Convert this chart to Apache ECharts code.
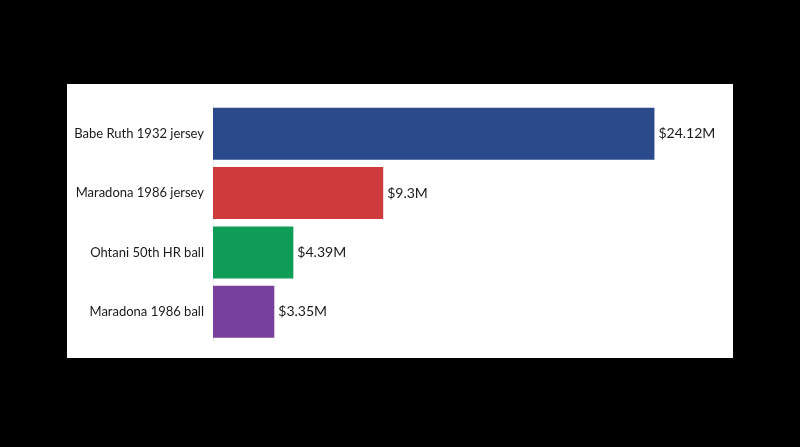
<!DOCTYPE html>
<html><head><meta charset="utf-8">
<script src="https://cdn.jsdelivr.net/npm/echarts@6/dist/echarts.min.js"></script>
<style>html,body{margin:0;padding:0;background:#000;}#c{width:800px;height:447px;}</style>
</head><body><div id="c"></div>
<script>
const categories = ["Babe Ruth 1932 jersey", "Maradona 1986 jersey", "Ohtani 50th HR ball", "Maradona 1986 ball"];
const values = [24.12, 9.3, 4.39, 3.35];
const valueLabels = ["$24.12M", "$9.3M", "$4.39M", "$3.35M"];
const colors = ["#2b4a8c", "#cf3a3c", "#0f9c57", "#77409c"];

const chart = echarts.init(document.getElementById('c'), null, {renderer: 'canvas'});
chart.setOption({
  backgroundColor: '#000',
  animation: false,
  graphic: [{type: 'rect', z: -10, shape: {x: 67, y: 84, width: 666, height: 274}, style: {fill: '#fff'}}],
  grid: {left: 213, top: 104, width: 485, height: 237.5},
  xAxis: {type: 'value', min: 0, max: 26.5, show: false},
  yAxis: {
    type: 'category', data: categories, inverse: true,
    axisLine: {show: true, lineStyle: {color: '#eeeeee', width: 1}},
    axisTick: {show: false}, splitLine: {show: false},
    axisLabel: {color: '#1a1a1a', fontSize: 13, fontFamily: 'Lato', margin: 9}
  },
  series: [{
    type: 'bar', barCategoryGap: '12.3%',
    data: values.map((v, i) => ({value: v, itemStyle: {color: colors[i]}})),
    label: {show: true, position: 'right', distance: 4, color: '#1a1a1a', fontSize: 14, fontFamily: 'Lato',
      formatter: p => valueLabels[p.dataIndex]}
  }]
});
</script></body></html>
